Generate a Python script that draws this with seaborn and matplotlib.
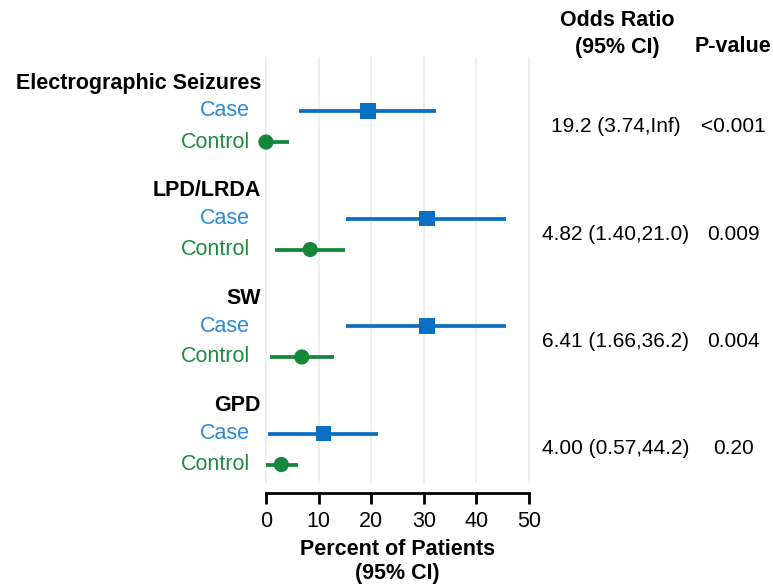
import pandas as pd
import seaborn as sns
import matplotlib.pyplot as plt
from matplotlib.transforms import blended_transform_factory

# data
groups = ["Electrographic Seizures", "LPD/LRDA", "SW", "GPD"]
case_pct = [19.4, 30.6, 30.6, 11.0]
case_lo = [6.3, 15.2, 15.2, 0.4]
case_hi = [32.3, 45.6, 45.6, 21.3]
control_pct = [0.0, 8.4, 6.8, 2.9]
control_lo = [0.0, 1.7, 0.8, 0.0]
control_hi = [4.4, 15.0, 12.9, 6.1]
odds_ratio = ["19.2 (3.74,Inf)", "4.82 (1.40,21.0)", "6.41 (1.66,36.2)", "4.00 (0.57,44.2)"]
p_values = ["<0.001", "0.009", "0.004", "0.20"]

blue = "#0a6fc2"
green = "#14873a"
text_blue = "#2a8ad4"
text_green = "#1b8c40"

# row layout (pixel-like units, top to bottom)
group_y = [83 + 107.5 * i for i in range(len(groups))]
case_y = [g + 28 for g in group_y]
control_y = [g + 59 for g in group_y]

df = pd.DataFrame({
    "group": groups * 2,
    "arm": ["Case"] * 4 + ["Control"] * 4,
    "pct": case_pct + control_pct,
    "lo": case_lo + control_lo,
    "hi": case_hi + control_hi,
    "y": case_y + control_y,
})

plt.rcParams["font.family"] = ["Liberation Sans", "DejaVu Sans"]
fig = plt.figure(figsize=(7.73, 5.88), dpi=100)
W, H = 773, 588
# axes: x pixels 250..545, y pixels 57..483
ax = fig.add_axes([250 / W, 1 - 483 / H, 295 / W, 426 / H])
xmin = (250 - 266) / 5.26
xmax = (545 - 266) / 5.26
ax.set_xlim(xmin, xmax)
ax.set_ylim(483, 57)

for x in range(0, 51, 10):
    ax.axvline(x, color="#ebebeb", lw=1.1, zorder=0)

palette = {"Case": blue, "Control": green}
for arm, sub in df.groupby("arm"):
    ax.hlines(sub["y"], sub["lo"], sub["hi"], color=palette[arm], lw=2.7, zorder=2)

sns.scatterplot(data=df, x="pct", y="y", hue="arm", style="arm",
                palette=palette, markers={"Case": "s", "Control": "o"},
                s=120, linewidth=0, legend=False, ax=ax, zorder=3, clip_on=False)

# axis styling
for side in ["left", "top", "right"]:
    ax.spines[side].set_visible(False)
ax.spines["bottom"].set_position(("outward", 7))
ax.spines["bottom"].set_bounds(0, 50)
ax.spines["bottom"].set_linewidth(2)
ax.set_xticks(range(0, 51, 10))
ax.tick_params(axis="x", length=8, width=2, labelsize=15.5, pad=5)
ax.set_yticks([])
ax.set_ylabel("")
ax.set_xlabel("Percent of Patients\n(95% CI)", fontsize=15.5, fontweight="bold",
              labelpad=5, linespacing=1.2)

# row labels
tr = blended_transform_factory(fig.transFigure, ax.transData)
for i, g in enumerate(groups):
    ax.text(261 / W, group_y[i], g, transform=tr, ha="right", va="center",
            fontsize=15.5, fontweight="bold")
    ax.text(250 / W, case_y[i], "Case", transform=tr, ha="right", va="center",
            fontsize=15.5, color=text_blue)
    ax.text(250 / W, control_y[i], "Control", transform=tr, ha="right", va="center",
            fontsize=15.5, color=text_green)
    mid = (case_y[i] + control_y[i]) / 2
    ax.text(616 / W, mid, odds_ratio[i], transform=tr, ha="center", va="center",
            fontsize=15)
    ax.text(733 / W, mid, p_values[i], transform=tr, ha="center", va="center",
            fontsize=15)

# column headers
fig.text(617 / W, 1 - 21 / H, "Odds Ratio", ha="center", va="center",
         fontsize=15.5, fontweight="bold")
fig.text(617 / W, 1 - 47 / H, "(95% CI)", ha="center", va="center",
         fontsize=15.5, fontweight="bold")
fig.text(733 / W, 1 - 47 / H, "P-value", ha="center", va="center",
         fontsize=15.5, fontweight="bold")

fig.savefig("out.png", dpi=100)
